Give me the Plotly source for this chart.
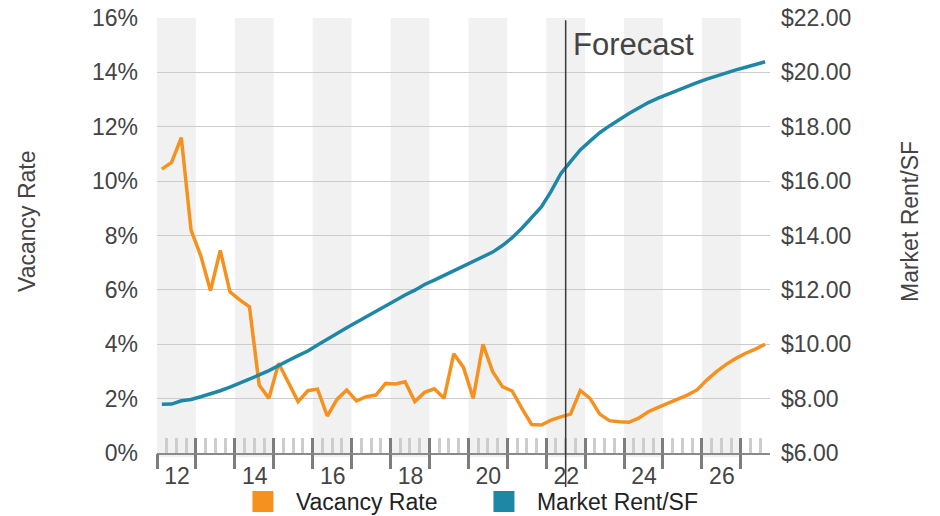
import pandas as pd
import plotly.graph_objects as go

# Quarterly series, 2012 Q1 through 2027 Q3 (forecast from mid-2022)
quarters = pd.period_range("2012Q1", "2027Q3", freq="Q")

vacancy_rate = [
    10.44, 10.69, 11.60, 8.20, 7.25, 5.97, 7.45, 5.93, 5.63, 5.38,
    2.50, 2.01, 3.30, 2.62, 1.89, 2.29, 2.35, 1.36, 1.97, 2.32,
    1.92, 2.07, 2.13, 2.56, 2.54, 2.62, 1.89, 2.23, 2.36, 2.01,
    3.65, 3.15, 2.01, 4.00, 2.99, 2.44, 2.28, 1.64, 1.05, 1.03,
    1.21, 1.33, 1.43, 2.30, 2.01, 1.43, 1.19, 1.15, 1.13, 1.28,
    1.52, 1.68, 1.83, 1.99, 2.13, 2.32, 2.68, 2.99, 3.26, 3.48,
    3.67, 3.82, 4.00,
]

market_rent = [
    7.79, 7.80, 7.92, 7.97, 8.07, 8.17, 8.29, 8.42, 8.56, 8.71,
    8.87, 9.03, 9.20, 9.40, 9.58, 9.75, 9.97, 10.19, 10.40, 10.61,
    10.81, 11.01, 11.20, 11.42, 11.63, 11.81, 11.99, 12.20, 12.36, 12.53,
    12.69, 12.88, 13.05, 13.22, 13.39, 13.63, 13.92, 14.27, 14.65, 15.05,
    15.62, 16.27, 16.72, 17.15, 17.47, 17.78, 18.03, 18.27, 18.49, 18.69,
    18.89, 19.05, 19.20, 19.35, 19.49, 19.62, 19.75, 19.87, 19.99, 20.09,
    20.19, 20.29, 20.39,
]

years = list(range(2012, 2028))
year_labels = [str(y)[2:] if y % 2 == 0 else "" for y in years]
shaded_years = [y for y in years if y % 2 == 0]
forecast_start = 2022.5

vac_ticks = list(range(0, 17, 2))
vac_ticktext = [f"{v}%" for v in vac_ticks]
rent_ticks = list(range(6, 23, 2))
rent_ticktext = [f"${v:.2f}" for v in rent_ticks]

ORANGE = "#F5921F"
BLUE = "#1F87A6"
FONT = "Liberation Sans, Arial, Helvetica, sans-serif"

# position each quarter at the middle of its span within the year
x = [p.year + (p.quarter - 0.5) / 4 for p in quarters]
x_range = [2012, 2027.75]
# quarter boundaries inside each year (year boundaries carry the major ticks)
quarter_marks = [y + q / 4 for y in years for q in (1, 2, 3)]

fig = go.Figure()

fig.add_trace(go.Scatter(
    x=x, y=vacancy_rate, mode="lines", name="Vacancy Rate",
    line=dict(color=ORANGE, width=3.5), showlegend=False,
    legendgroup="vac", xaxis="x", yaxis="y",
))
fig.add_trace(go.Scatter(
    x=x, y=market_rent, mode="lines", name="Market Rent/SF",
    line=dict(color=BLUE, width=3.5), showlegend=False,
    legendgroup="rent", xaxis="x", yaxis="y2",
))

# square legend swatches (placed on the overlay axis that carries the outer year ticks)
for name, color, grp in [("Vacancy Rate", ORANGE, "vac"), ("Market Rent/SF", BLUE, "rent")]:
    fig.add_trace(go.Scatter(
        x=[None], y=[None], mode="markers", name=name, legendgroup=grp,
        marker=dict(symbol="square", size=18, color=color,
                    line=dict(color=color, width=5)),
        xaxis="x2", yaxis="y",
    ))

# alternating shaded years
shapes = []
for y0 in shaded_years:
    shapes.append(dict(
        type="rect", xref="x", yref="paper", x0=y0, x1=y0 + 1, y0=-0.01, y1=1,
        fillcolor="rgba(0,0,0,0.055)", line=dict(width=0), layer="below",
    ))

# forecast divider
shapes.append(dict(
    type="line", xref="x", yref="paper", x0=forecast_start, x1=forecast_start,
    y0=-0.078, y1=0.995, line=dict(color="#3a3a3a", width=1.5), layer="above",
))

fig.update_layout(
    width=940, height=516,
    margin=dict(l=157, r=170, t=18, b=63, autoexpand=False),
    paper_bgcolor="white", plot_bgcolor="white",
    font=dict(family=FONT, size=23, color="#444444"),
    shapes=shapes,
    showlegend=True,
    legend=dict(
        orientation="h", x=0.119, xanchor="left",
        yref="container", y=0.028, yanchor="middle",
        font=dict(size=23, color="#222222"), bgcolor="rgba(0,0,0,0)",
        itemsizing="trace", itemwidth=56, entrywidth=170,
    ),
    xaxis=dict(
        range=x_range, tickmode="array", tickvals=years, ticktext=year_labels,
        ticklabelshift=20, ticklabelstandoff=1, automargin=False,
        ticks="inside", ticklen=15, tickwidth=3, tickcolor="#7d7d7d",
        showgrid=False, zeroline=False,
        showline=True, linecolor="#8a8a8a", linewidth=2,
        tickfont=dict(size=23, color="#444444"),
        minor=dict(tickmode="array", tickvals=quarter_marks, ticks="inside",
                   ticklen=15, tickwidth=3, tickcolor="#CDCDCD", showgrid=False),
    ),
    xaxis2=dict(
        overlaying="x", matches="x", anchor="y", range=x_range, automargin=False,
        tickmode="array", tickvals=years, ticks="outside", ticklen=15,
        tickwidth=3, tickcolor="#7d7d7d", showticklabels=False,
        showgrid=False, zeroline=False, showline=False,
    ),
    yaxis=dict(
        range=[0, 16], tickmode="array", tickvals=vac_ticks, ticktext=vac_ticktext,
        ticks="", ticklabelstandoff=18, showgrid=True, gridcolor="#CCCCCC",
        gridwidth=1.3, zeroline=False, showline=False, automargin=False,
    ),
    yaxis2=dict(
        range=[6, 22], overlaying="y", side="right", anchor="x",
        tickmode="array", tickvals=rent_ticks, ticktext=rent_ticktext,
        ticks="", ticklabelstandoff=10, showgrid=False, zeroline=False,
        showline=False, automargin=False,
    ),
    annotations=[
        dict(text="Vacancy Rate", xref="paper", yref="paper",
             x=(27 - 157) / 613, y=(453 - 222) / 435, textangle=-90,
             showarrow=False, font=dict(size=23, color="#444444"),
             xanchor="center", yanchor="middle"),
        dict(text="Market Rent/SF", xref="paper", yref="paper",
             x=(910 - 157) / 613, y=(453 - 222) / 435, textangle=-90,
             showarrow=False, font=dict(size=23, color="#444444"),
             xanchor="center", yanchor="middle"),
        dict(text="Forecast", xref="x", yref="paper", x=forecast_start, y=0.985,
             xanchor="left", yanchor="top", xshift=5, showarrow=False,
             font=dict(size=31, color="#444444")),
    ],
)

fig.write_html("out.html")
